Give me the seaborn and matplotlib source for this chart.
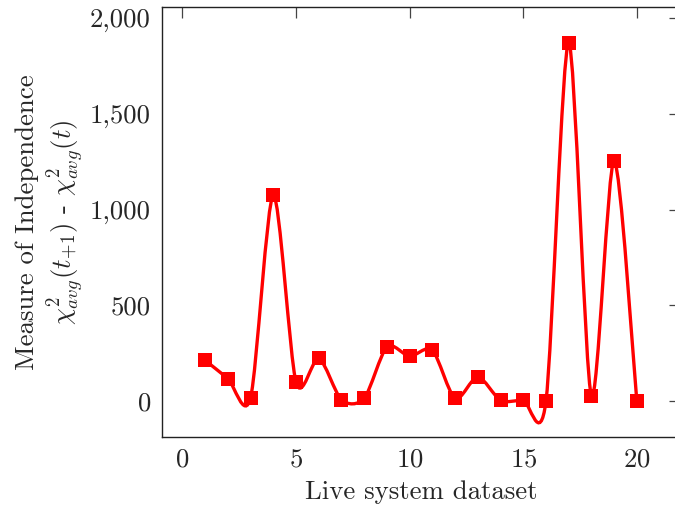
import matplotlib
matplotlib.use("Agg")
import matplotlib.pyplot as plt
import seaborn as sns
import numpy as np
from matplotlib.path import Path
from matplotlib.patches import PathPatch
from matplotlib.ticker import FuncFormatter

# data
dataset = [1, 2, 3, 4, 5, 6, 7, 8, 9, 10, 11, 12, 13, 14, 15, 16, 17, 18, 19, 20]
independence = [213, 118, 19, 1075, 99, 224, 7, 15, 283, 234, 266, 14, 127, 5, 5, 0, 1871, 28, 1255, 0]

sns.set_style("white")
plt.rcParams['font.family'] = 'serif'
plt.rcParams['font.serif'] = ['cmr10', 'DejaVu Serif']
plt.rcParams['mathtext.fontset'] = 'cm'
plt.rcParams['axes.formatter.use_mathtext'] = True
fs = 19.3

fig = plt.figure(figsize=(6.75, 5.07), dpi=100)
ax = fig.add_axes([162 / 675, 70 / 507, 518 / 675, 430 / 507])

# smooth line like tikz "smooth" (cubic bezier, tension 0.55)
x = np.array(dataset, dtype=float)
y = np.array(independence, dtype=float)
f = 0.55 / 4
verts = [(x[0], y[0])]
codes = [Path.MOVETO]
n = len(x)
for i in range(n - 1):
    xp, yp = (x[i - 1], y[i - 1]) if i > 0 else (x[i], y[i])
    xn, yn = (x[i + 2], y[i + 2]) if i + 2 < n else (x[i + 1], y[i + 1])
    c1 = (x[i] + f * (x[i + 1] - xp), y[i] + f * (y[i + 1] - yp))
    c2 = (x[i + 1] - f * (xn - x[i]), y[i + 1] - f * (yn - y[i]))
    verts += [c1, c2, (x[i + 1], y[i + 1])]
    codes += [Path.CURVE4, Path.CURVE4, Path.CURVE4]
ax.add_patch(PathPatch(Path(verts, codes), fill=False, edgecolor='red', lw=2.4, zorder=2))

sns.scatterplot(x=dataset, y=independence, marker='s', s=90, color='red',
                edgecolor='red', linewidth=0, ax=ax, zorder=3)

ax.set_xlim(-0.9, 21.9)
ax.set_ylim(-187, 2057)
ax.set_xticks([0, 5, 10, 15, 20])
ax.set_yticks([0, 500, 1000, 1500, 2000])
ax.yaxis.set_major_formatter(FuncFormatter(lambda v, p: f"{int(v):,}"))
ax.tick_params(direction='in', length=8, width=0.9, color='#444444',
               top=True, right=True, labelsize=fs, pad=8)
for s in ax.spines.values():
    s.set_linewidth(1.0)
    s.set_color('#222222')

ax.set_xlabel("Live system dataset", fontsize=fs, labelpad=6)
ax.set_ylabel("Measure of Independence\n"
              r"$\chi^2_{avg}(t_{+1})$ - $\chi^2_{avg}(t)$", fontsize=fs, labelpad=3)

fig.savefig("out.png", dpi=100)
